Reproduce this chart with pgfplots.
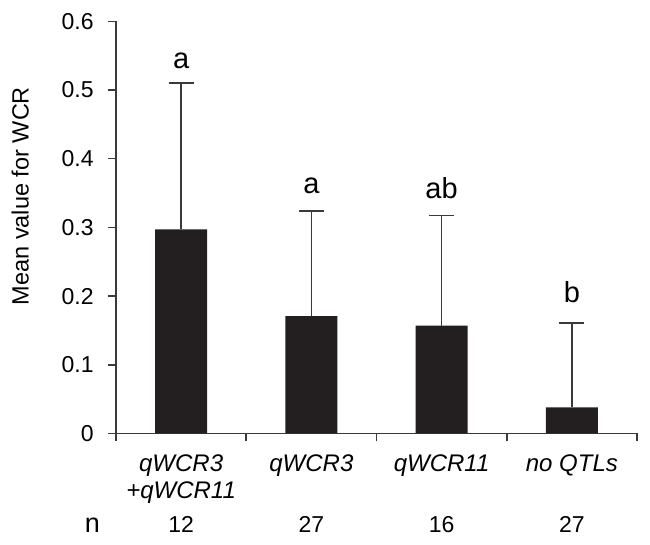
\documentclass[border=0pt]{standalone}
\usepackage{pgfplots}
\usepackage{pgfplotstable}
\pgfplotsset{compat=1.18}
\usepackage{fontspec}
\setmainfont{Liberation Sans}
\definecolor{barc}{HTML}{231F20}
\definecolor{axc}{HTML}{3A3A3A}
\pgfplotstableread{
x y ey
0.5 0.297 0.213
1.5 0.171 0.153
2.5 0.157 0.160
3.5 0.038 0.123
}\data
\begin{document}
\begin{tikzpicture}
\begin{axis}[
  scale only axis, width=260.5pt, height=206.1pt,
  xmin=0, xmax=4, ymin=0, ymax=0.6,
  clip=false,
  axis x line=bottom, axis y line=left,
  axis line style={-, axc, line width=0.8pt},
  tick align=outside,
  major tick length=4pt, minor tick length=4pt,
  tick style={axc, line width=0.8pt},
  ytick={0,0.1,0.2,0.3,0.4,0.5,0.6},
  yticklabel style={/pgf/number format/fixed, /pgf/number format/precision=1,
    /pgf/number format/assume math mode=true,
    font=\fontsize{11.5}{13}\selectfont, inner sep=0pt, xshift=-7pt},
  xtick={0.5,1.5,2.5,3.5},
  major x tick style={draw=none},
  minor xtick={0,1,2,3,4},
  minor x tick style={axc, line width=0.8pt},
  xticklabels={{qWCR3\\+qWCR11},{qWCR3},{qWCR11},{no QTLs}},
  xticklabel style={align=center, font=\fontsize{12}{13.5}\selectfont\itshape, inner sep=0pt, yshift=-6.5pt},
  ylabel={Mean value for WCR},
  ylabel style={at={(axis description cs:-0.1664,0.576)}, anchor=south, inner sep=0pt,
    font=\fontsize{11.75}{14}\selectfont},
]
\addplot[ybar, bar width=0.4, fill=barc, draw=none,
  error bars/.cd, y dir=plus, y explicit,
  error bar style={axc, line width=0.75pt},
  error mark options={rotate=90, axc, line width=0.75pt, mark size=6.25pt}]
  table[x=x, y=y, y error=ey] {\data};
\node[font=\fontsize{14.5}{16}\selectfont, anchor=base] at (axis cs:0.5,0.5316) {a};
\node[font=\fontsize{14.5}{16}\selectfont, anchor=base] at (axis cs:1.5,0.3496) {a};
\node[font=\fontsize{14.5}{16}\selectfont, anchor=base] at (axis cs:2.5,0.3424) {ab};
\node[font=\fontsize{14.5}{16}\selectfont, anchor=base] at (axis cs:3.5,0.191) {b};
\coordinate (o) at (axis cs:0,0);
\end{axis}
\begin{scope}[every node/.style={anchor=base, inner sep=0pt, font=\fontsize{11.5}{13}\selectfont}]
\node[font=\fontsize{13.5}{15}\selectfont] at ([shift={(-11.75pt,-49.4pt)}]o) {n};
\node at ([shift={(32.56pt,-49.4pt)}]o) {12};
\node at ([shift={(97.69pt,-49.4pt)}]o) {27};
\node at ([shift={(162.81pt,-49.4pt)}]o) {16};
\node at ([shift={(227.94pt,-49.4pt)}]o) {27};
\end{scope}
\pgfresetboundingbox
\path[use as bounding box] ([shift={(-58pt,-55.75pt)}]o) rectangle ([shift={(267pt,216.75pt)}]o);
\end{tikzpicture}
\end{document}
